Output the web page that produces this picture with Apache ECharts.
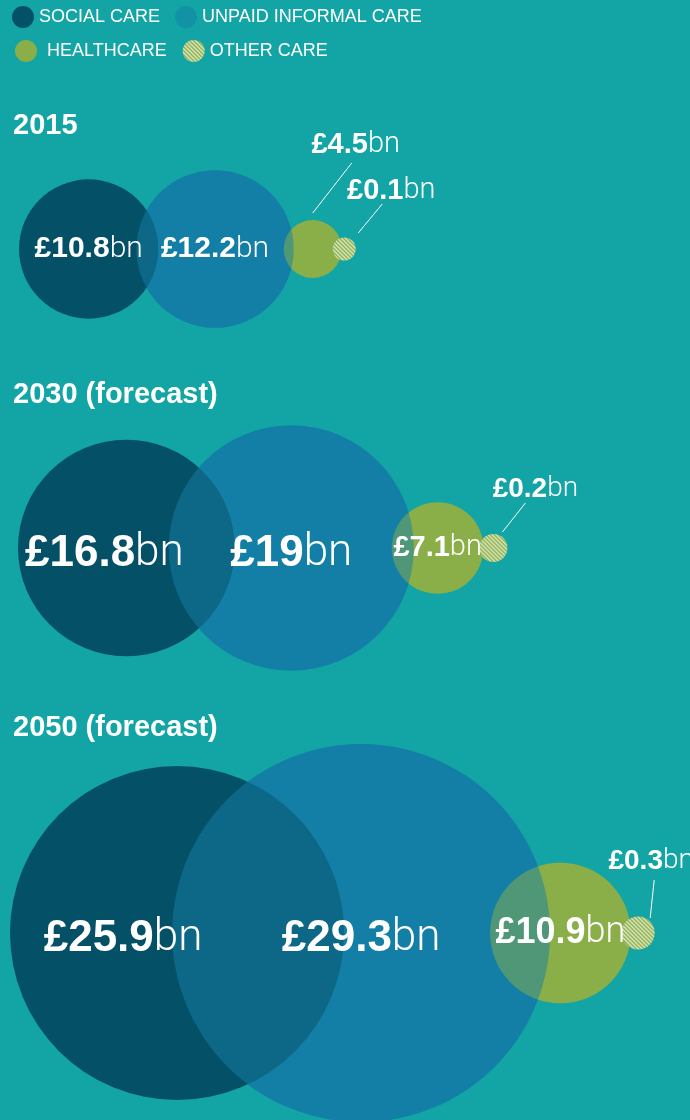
<!DOCTYPE html>
<html>
<head>
<meta charset="utf-8">
<script src="https://cdn.jsdelivr.net/npm/echarts@6/dist/echarts.min.js"></script>
<style>
html, body { margin: 0; padding: 0; background: #13A5A5; }
#chart { width: 690px; height: 1120px; }
</style>
</head>
<body>
<div id="chart"></div>
<script>
// data, £bn
var years = ['2015', '2030 (forecast)', '2050 (forecast)'];
var socialCare = [10.8, 16.8, 25.9];
var unpaidCare = [12.2, 19, 29.3];
var healthCare = [4.5, 7.1, 10.9];
var otherCare = [0.1, 0.2, 0.3];
var names = ['SOCIAL CARE', 'UNPAID INFORMAL CARE', 'HEALTHCARE', 'OTHER CARE'];

// layout
var rowY = [249, 548, 933];
var titleTop = [111, 380, 713];
var rowLeft = [19, 18, 10];
var overlapSU = [22, 66, 172];
var overlapUH = [10, 22, 60];
var overlapHO = [9, 4, 9];
var pxPerBn = 6.45;
var bigFont = [30, 44, 44];
var healthFont = [29, 29, 36];
var otherFont = [29, 28, 28];
var socialShift = [0, -22, -54];
// outside labels: label centre and leader ends, relative to circle centre
var healthOut = [[43, -104], null, null];
var otherOut = [[47, -58], [42, -59], [13, -72]];
var healthLeader = [[0, -36, 39, -86], null, null];
var otherLeader = [[14, -16, 38, -45], [9, -16, 32, -45], [12, -15, 16, -53]];

var NUM_FONT = "'Liberation Sans', Arial, sans-serif";
var UNIT_FONT = "Roboto, 'Liberation Sans', sans-serif";

function rBig(v) { return v * pxPerBn; }
function rOther(v) { return 9 + 25 * v; }

var cx = {s: [], u: [], h: [], o: []};
for (var i = 0; i < 3; i++) {
	var rs = rBig(socialCare[i]), ru = rBig(unpaidCare[i]), rh = rBig(healthCare[i]), ro = rOther(otherCare[i]);
	cx.s[i] = rowLeft[i] + rs;
	cx.u[i] = cx.s[i] + rs + ru - overlapSU[i];
	cx.h[i] = cx.u[i] + ru + rh - overlapUH[i];
	cx.o[i] = cx.h[i] + rh + ro - overlapHO[i];
}

var richFor = function(size){
	return {
		v: {color: '#fff', fontFamily: NUM_FONT, fontWeight: 'bold', fontSize: size},
		u: {color: '#fff', fontFamily: UNIT_FONT, fontWeight: 300, fontSize: size}
	};
};
var fmt = function(p){ return '{v|£' + p.value[2] + '}{u|bn}'; };

var makeData = function(vals, key, rFn, fonts, shifts){
	var out = [];
	for (var i = 0; i < vals.length; i++) {
		// digits have no descenders, nudge big labels down a little
		var dy = fonts[i] >= 36 ? 6 : 0;
		out.push({
			value: [cx[key][i], rowY[i], vals[i]],
			symbolSize: 2 * rFn(vals[i]),
			label: {offset: [shifts ? shifts[i] : 0, dy], rich: richFor(fonts[i])}
		});
	}
	return out;
};

var outLayout = function(offsets){
	return function(p){
		var o = offsets[p.dataIndex];
		if (!o) return {};
		return {
			x: p.rect.x + p.rect.width / 2 + o[0],
			y: p.rect.y + p.rect.height / 2 + o[1],
			align: 'center',
			verticalAlign: 'middle'
		};
	};
};

var baseSeries = function(name, color, data){
	return {
		name: name,
		type: 'scatter',
		symbol: 'circle',
		data: data,
		itemStyle: {color: color, opacity: 1},
		label: {show: true, position: 'inside', formatter: fmt},
		emphasis: {disabled: true}
	};
};

// striped fill for other care
var hatch = document.createElement('canvas');
hatch.width = 4; hatch.height = 4;
var g = hatch.getContext('2d');
g.fillStyle = '#8AAE48';
g.fillRect(0, 0, 4, 4);
g.strokeStyle = 'rgba(232,240,212,0.95)';
g.lineWidth = 1.3;
g.beginPath();
g.moveTo(-1, -1); g.lineTo(5, 5);
g.moveTo(-1, 3); g.lineTo(1, 5);
g.moveTo(3, -1); g.lineTo(5, 1);
g.stroke();

var UNPAID = '#137FA6';

// opaque unpaid base with labels; the named unpaid series goes on top at half opacity
var unpaidBase = baseSeries('', UNPAID, makeData(unpaidCare, 'u', rBig, bigFont));
unpaidBase.silent = true;
var social = baseSeries(names[0], '#045066', makeData(socialCare, 's', rBig, bigFont, socialShift));
var health = baseSeries(names[2], '#8AAE48', makeData(healthCare, 'h', rBig, healthFont));
health.labelLayout = outLayout(healthOut);
var other = baseSeries(names[3], {image: hatch, repeat: 'repeat'}, makeData(otherCare, 'o', rOther, otherFont));
other.labelLayout = outLayout(otherOut);
// symbols are scaled unit shapes, so scale the pattern back to screen pixels
other.data.forEach(function(d){
	var k = 2 / d.symbolSize;
	d.itemStyle = {color: {image: hatch, repeat: 'repeat', scaleX: k, scaleY: k}};
});
var unpaid = baseSeries(names[1], UNPAID, makeData(unpaidCare, 'u', rBig, bigFont));
unpaid.itemStyle.opacity = 0.5;
unpaid.label = {show: false};
unpaid.silent = true;

// leader lines
var leaderData = [];
for (var i = 0; i < 3; i++) {
	if (healthLeader[i]) leaderData.push([cx.h[i], rowY[i]].concat(healthLeader[i]));
	if (otherLeader[i]) leaderData.push([cx.o[i], rowY[i]].concat(otherLeader[i]));
}
var leaders = {
	type: 'custom',
	silent: true,
	data: leaderData,
	encode: {x: 0, y: 1},
	renderItem: function(params, api){
		var c = api.coord([api.value(0), api.value(1)]);
		return {
			type: 'line',
			shape: {
				x1: c[0] + api.value(2), y1: c[1] + api.value(3),
				x2: c[0] + api.value(4), y2: c[1] + api.value(5)
			},
			style: {stroke: '#fff', lineWidth: 1}
		};
	}
};

var titles = [];
for (var i = 0; i < years.length; i++) {
	titles.push({
		text: years[i], left: 13, top: titleTop[i], padding: 0,
		textStyle: {color: '#fff', fontSize: 29, fontWeight: 'bold', fontFamily: NUM_FONT}
	});
}

var legendText = {color: '#fff', fontSize: 18, fontFamily: NUM_FONT};

var myChart = echarts.init(document.getElementById('chart'));
myChart.setOption({
	backgroundColor: '#13A5A5',
	animation: false,
	title: titles,
	legend: [{
		data: [names[0], names[1]], left: 12, top: 6, padding: 0,
		icon: 'circle', itemWidth: 22, itemHeight: 22, itemGap: 15,
		textStyle: legendText, selectedMode: false
	}, {
		data: [{name: names[2], textStyle: {padding: [0, 0, 0, 5]}}, names[3]], left: 15, top: 40, padding: 0,
		icon: 'circle', itemWidth: 22, itemHeight: 22, itemGap: 16,
		textStyle: legendText, selectedMode: false
	}],
	grid: {left: 0, right: 0, top: 0, bottom: 0},
	xAxis: {type: 'value', min: 0, max: 690, show: false},
	yAxis: {type: 'value', min: 0, max: 1120, inverse: true, show: false},
	series: [unpaidBase, social, health, other, unpaid, leaders]
});
</script>
</body>
</html>
